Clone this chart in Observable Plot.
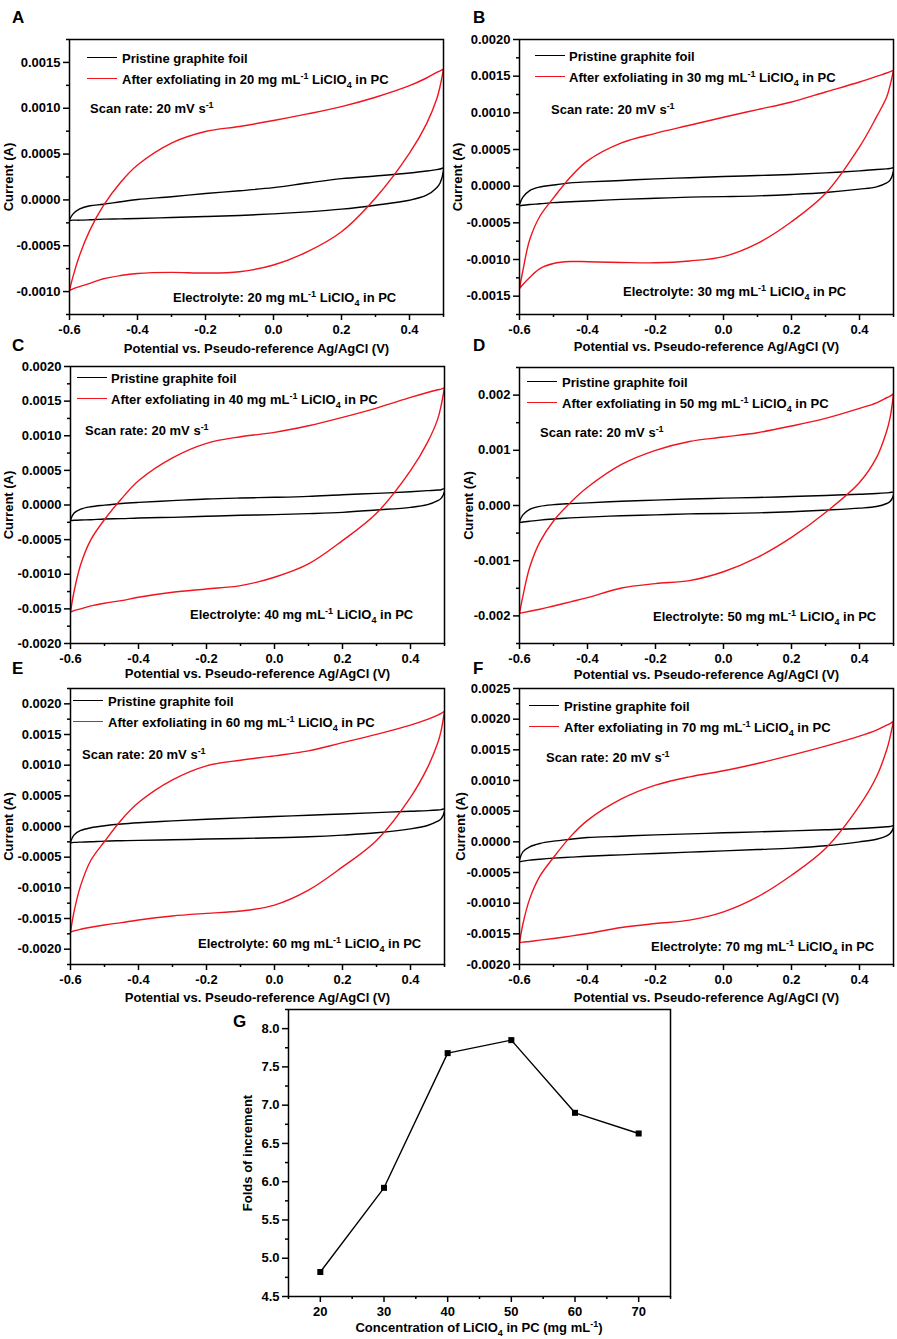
<!DOCTYPE html>
<html>
<head>
<meta charset="utf-8">
<script src="https://cdn.jsdelivr.net/npm/d3@7"></script>
<script src="https://cdn.jsdelivr.net/npm/@observablehq/plot@0.6"></script>
<style>
  body { margin: 0; background: #fff; }
  #fig { position: relative; width: 897px; height: 1339px; overflow: hidden; background: #fff;
         font-family: "Liberation Sans", Arial, sans-serif; font-weight: bold; color: #000; }
  #fig svg { position: absolute; }
  .lab { position: absolute; font-size: 17px; font-weight: bold; line-height: 1; transform: translateY(-50%); }
  .ann { position: absolute; font-size: 13px; white-space: nowrap; line-height: 1; transform: translateY(-50%); }
  .ann sup, .ann sub { font-size: 9px; line-height: 0; }
  .ann sup { vertical-align: 5px; }
  .ann sub { vertical-align: -4px; }
  .leg { position: absolute; width: 30px; height: 0; border-top: 1.5px solid #000; }
  .cen { transform: translate(-50%, -50%); }
</style>
</head>
<body>
<div id="fig"></div>
<script>
// ---------------- data ----------------
// Potential grid (V vs. pseudo-reference Ag/AgCl) shared by every CV branch
const potential = [-0.6, -0.59, -0.57, -0.54, -0.5, -0.45, -0.4, -0.3, -0.2, -0.1, 0, 0.1, 0.2, 0.3, 0.4, 0.45, 0.48, 0.49, 0.5];
// currents below are in units of 1e-4 A; "Fwd" = anodic sweep, "Rev" = cathodic sweep (listed at the same potentials)
const UNIT = 1e-4;

const pristineFwdA   = [-2.17,-1.55,-0.98,-0.63,-0.48,-0.2,0.04,0.35,0.7,1.0,1.34,1.85,2.32,2.61,2.93,3.15,3.30,3.37,3.48];
const pristineRevA   = [-2.25,-2.21,-2.21,-2.17,-2.10,-2.07,-2.03,-1.92,-1.81,-1.70,-1.52,-1.30,-1.01,-0.58,-0.04,0.51,1.34,1.85,3.22];
const exfoliatedFwdA = [-9.89,-8.4,-6.0,-3.3,-0.6,1.9,3.8,6.2,7.46,8.01,8.66,9.38,10.18,11.20,12.46,13.30,13.91,14.09,14.27];
const exfoliatedRevA = [-9.89,-9.70,-9.45,-9.10,-8.60,-8.25,-8.02,-7.90,-7.98,-7.83,-7.10,-5.65,-3.48,0.2,5.1,8.3,11.0,12.4,14.27];

const pristineFwdB   = [-2.5,-1.5,-0.6,-0.12,0.16,0.45,0.58,0.78,1.0,1.15,1.32,1.45,1.6,1.81,2.09,2.27,2.36,2.40,2.50];
const pristineRevB   = [-2.68,-2.6,-2.5,-2.4,-2.25,-2.12,-2.02,-1.80,-1.65,-1.5,-1.42,-1.32,-1.13,-0.86,-0.41,-0.09,0.45,0.82,2.09];
const exfoliatedFwdB = [-13.95,-11.5,-7.3,-4.1,-1.6,1.25,3.45,5.9,7.2,8.3,9.4,10.44,11.48,12.84,14.20,14.97,15.43,15.61,15.79];
const exfoliatedRevB = [-13.95,-13.4,-12.45,-11.25,-10.55,-10.28,-10.3,-10.4,-10.45,-10.2,-9.6,-7.80,-4.85,-1.00,5.35,9.44,12.16,13.75,15.79];

const pristineFwdC   = [-2.16,-1.2,-0.6,-0.25,-0.02,0.22,0.38,0.63,0.87,1.01,1.11,1.25,1.49,1.68,1.92,2.07,2.16,2.21,2.36];
const pristineRevC   = [-2.26,-2.21,-2.16,-2.12,-2.02,-1.97,-1.88,-1.78,-1.63,-1.49,-1.39,-1.25,-1.06,-0.72,-0.34,0.05,0.63,0.96,1.97];
const exfoliatedFwdC = [-15.48,-12.6,-8.6,-5.0,-2.1,0.9,3.5,6.8,8.9,9.86,10.48,11.44,12.65,13.99,15.53,16.25,16.64,16.73,16.97];
const exfoliatedRevC = [-15.48,-15.24,-15.00,-14.57,-14.18,-13.80,-13.32,-12.60,-12.12,-11.64,-10.43,-8.51,-5.14,-1.20,4.95,9.04,12.40,14.33,16.97];

const pristineFwdD   = [-2.9,-1.7,-0.7,-0.15,0.15,0.34,0.48,0.76,0.98,1.18,1.33,1.45,1.63,1.81,2.05,2.17,2.29,2.35,2.41];
const pristineRevD   = [-3.07,-3.0,-2.85,-2.65,-2.45,-2.25,-2.1,-1.85,-1.7,-1.52,-1.45,-1.33,-1.14,-0.84,-0.48,-0.18,0.36,0.72,1.93];
const exfoliatedFwdD = [-19.52,-16.4,-11.2,-6.6,-2.8,0.55,3.3,7.45,10.0,11.6,12.4,13.19,14.40,15.78,17.59,18.61,19.52,19.82,20.24];
const exfoliatedRevD = [-19.52,-19.4,-19.15,-18.8,-18.2,-17.45,-16.7,-14.95,-14.15,-13.6,-12.0,-9.40,-5.78,-1.27,4.16,8.67,13.49,15.90,20.24];

const pristineFwdE   = [-2.54,-1.4,-0.65,-0.2,0.12,0.4,0.6,0.92,1.19,1.41,1.62,1.84,2.05,2.27,2.49,2.59,2.70,2.76,2.86];
const pristineRevE   = [-2.65,-2.59,-2.54,-2.49,-2.38,-2.32,-2.27,-2.16,-2.05,-1.95,-1.84,-1.68,-1.41,-1.03,-0.38,0.16,0.86,1.24,2.49];
const exfoliatedFwdE = [-17.24,-14.0,-9.6,-5.5,-2.45,1.1,3.9,7.6,9.89,10.81,11.51,12.32,13.67,15.03,16.54,17.46,18.16,18.43,18.81];
const exfoliatedRevE = [-17.24,-17.03,-16.76,-16.43,-16.05,-15.67,-15.24,-14.59,-14.16,-13.78,-12.81,-10.38,-6.59,-2.27,4.76,9.6,13.6,15.6,18.81];

const pristineFwdF   = [-2.99,-1.63,-0.82,-0.27,0.11,0.43,0.71,0.92,1.14,1.30,1.47,1.63,1.79,1.96,2.17,2.34,2.45,2.50,2.61];
const pristineRevF   = [-3.26,-3.15,-2.99,-2.83,-2.66,-2.50,-2.34,-2.12,-1.90,-1.68,-1.47,-1.25,-1.03,-0.65,0,0.43,0.98,1.36,2.34];
const exfoliatedFwdF = [-16.47,-13.4,-9.3,-5.6,-2.55,0.85,3.5,7.0,9.24,10.60,11.58,12.77,14.13,15.60,17.23,18.21,19.02,19.29,19.67];
const exfoliatedRevF = [-16.47,-16.36,-16.25,-16.03,-15.76,-15.38,-14.95,-13.97,-13.32,-12.77,-11.41,-8.97,-5.44,-1.09,5.9,10.6,15.0,17.1,19.67];

// electrolyte concentrations (mg/mL) of panels A–F
const panelConcentration = [20, 30, 40, 50, 60, 70];

// tick values
const xTicksCV = [-0.6, -0.4, -0.2, 0.0, 0.2, 0.4];
const yTicksA = [-0.001, -0.0005, 0, 0.0005, 0.001, 0.0015];
const yTicksB = [-0.0015, -0.001, -0.0005, 0, 0.0005, 0.001, 0.0015, 0.002];
const yTicksC = [-0.002, -0.0015, -0.001, -0.0005, 0, 0.0005, 0.001, 0.0015, 0.002];
const yTicksD = [-0.002, -0.001, 0, 0.001, 0.002];
const yTicksE = [-0.002, -0.0015, -0.001, -0.0005, 0, 0.0005, 0.001, 0.0015, 0.002];
const yTicksF = [-0.002, -0.0015, -0.001, -0.0005, 0, 0.0005, 0.001, 0.0015, 0.002, 0.0025];

// panel G
const concentrationG = [20, 30, 40, 50, 60, 70];
const foldsG = [4.82, 5.92, 7.68, 7.85, 6.90, 6.63];
const xTicksG = [20, 30, 40, 50, 60, 70];
const yTicksG = [4.5, 5.0, 5.5, 6.0, 6.5, 7.0, 7.5, 8.0];

// ---------------- layout ----------------
const fig = document.getElementById("fig");
const RED = "#f0141e";
const STYLE = "font-family: 'Liberation Sans', Arial, sans-serif; font-size: 13px; font-weight: bold; background: transparent; overflow: visible; color: #000;";
const X_LABEL = "Potential vs. Pseudo-reference Ag/AgCl (V)";
const SERIES = ["Pristine graphite foil", "After exfoliating"];

function minorOf(major, domain) {
  const step = major[1] - major[0];
  const out = [];
  for (let i = -2; i < major.length + 2; i++) {
    const v = +(major[0] - step / 2 + i * step).toFixed(10);
    if (v >= domain[0] - step * 1e-6 && v <= domain[1] + step * 1e-6) out.push(v);
  }
  return out;
}

const panels = [
  {id: "A", left: 0,   colW: 450, frame: {l: 69,  r: 443, t: 39,  b: 314}, yDomain: [-0.00125, 0.00175], yTicks: yTicksA, dig: 4,
   series: [pristineFwdA, pristineRevA, exfoliatedFwdA, exfoliatedRevA], yLabOff: 66, xLabOff: 38,
   leg: {lx: 18, r1: 19, r2: 40, tx: 53, sx: 21, sy: 69, ex: 104, ey: 258}, lab: [12, 17]},
  {id: "B", left: 450, colW: 447, frame: {l: 519, r: 893, t: 39,  b: 314}, yDomain: [-0.00175, 0.002], yTicks: yTicksB, dig: 4,
   series: [pristineFwdB, pristineRevB, exfoliatedFwdB, exfoliatedRevB], yLabOff: 67, xLabOff: 36,
   leg: {lx: 16, r1: 17, r2: 38, tx: 50, sx: 32, sy: 70, ex: 104, ey: 252}, lab: [473, 17]},
  {id: "C", left: 0,   colW: 450, frame: {l: 70,  r: 444, t: 366, b: 643}, yDomain: [-0.002, 0.002], yTicks: yTicksC, dig: 4,
   series: [pristineFwdC, pristineRevC, exfoliatedFwdC, exfoliatedRevC], yLabOff: 67, xLabOff: 34,
   leg: {lx: 7, r1: 12, r2: 33, tx: 41, sx: 15, sy: 64, ex: 120, ey: 248}, lab: [12, 345]},
  {id: "D", left: 450, colW: 447, frame: {l: 519, r: 893, t: 367, b: 643}, yDomain: [-0.0025, 0.0025], yTicks: yTicksD, dig: 3,
   series: [pristineFwdD, pristineRevD, exfoliatedFwdD, exfoliatedRevD], yLabOff: 56, xLabOff: 35,
   leg: {lx: 8, r1: 15, r2: 36, tx: 43, sx: 21, sy: 65, ex: 134, ey: 249}, lab: [473, 345]},
  {id: "E", left: 0,   colW: 450, frame: {l: 70,  r: 444, t: 688, b: 964}, yDomain: [-0.00225, 0.00225], yTicks: yTicksE, dig: 4,
   series: [pristineFwdE, pristineRevE, exfoliatedFwdE, exfoliatedRevE], yLabOff: 67, xLabOff: 37,
   leg: {lx: 3, r1: 13, r2: 34, tx: 38, sx: 12, sy: 66, ex: 128, ey: 255}, lab: [12, 668]},
  {id: "F", left: 450, colW: 447, frame: {l: 519, r: 893, t: 688, b: 964}, yDomain: [-0.002, 0.0025], yTicks: yTicksF, dig: 4,
   series: [pristineFwdF, pristineRevF, exfoliatedFwdF, exfoliatedRevF], yLabOff: 64, xLabOff: 37,
   leg: {lx: 10, r1: 18, r2: 39, tx: 45, sx: 27, sy: 69, ex: 132, ey: 258}, lab: [473, 668]}
];

function addDiv(cls, html, x, y, extra) {
  const d = document.createElement("div");
  d.className = cls;
  d.innerHTML = html;
  d.style.left = x + "px";
  d.style.top = y + "px";
  if (extra) Object.assign(d.style, extra);
  fig.appendChild(d);
  return d;
}

panels.forEach((p, k) => {
  const f = p.frame, mt = 30, mb = 48;
  const rows = [];
  const [pf, pr, ef, er] = p.series;
  const loop = (fwd, rev, name) => {
    potential.forEach((v, i) => rows.push({series: name, potential: v, current: fwd[i] * UNIT}));
    for (let i = potential.length - 1; i >= 0; i--) rows.push({series: name, potential: potential[i], current: rev[i] * UNIT});
  };
  loop(pf, pr, SERIES[0]);
  loop(ef, er, SERIES[1]);

  const svg = Plot.plot({
    width: p.colW,
    height: (f.b - f.t) + mt + mb,
    marginLeft: f.l - p.left,
    marginRight: p.left + p.colW - f.r,
    marginTop: mt,
    marginBottom: mb,
    style: STYLE,
    x: {domain: [-0.6, 0.5]},
    y: {domain: p.yDomain},
    color: {domain: SERIES, range: ["#000000", RED]},
    marks: [
      Plot.line(rows, {x: "potential", y: "current", z: "series", stroke: "series", strokeWidth: 1.4, curve: "catmull-rom", clip: true}),
      Plot.frame({stroke: "#000", strokeWidth: 1.5}),
      Plot.axisX({ticks: xTicksCV, tickSize: 6, tickPadding: 4, strokeWidth: 1.5, tickFormat: d => d.toFixed(1),
                  label: X_LABEL, labelAnchor: "center", labelOffset: p.xLabOff, labelArrow: "none"}),
      Plot.axisX({ticks: minorOf(xTicksCV, [-0.6, 0.5]), tickSize: 3, strokeWidth: 1.5, tickFormat: () => "", label: null}),
      Plot.axisY({ticks: p.yTicks, tickSize: 6, tickPadding: 3, strokeWidth: 1.5, tickFormat: d => d.toFixed(p.dig),
                  label: "Current (A)", labelAnchor: "center", labelOffset: p.yLabOff, labelArrow: "none"}),
      Plot.axisY({ticks: minorOf(p.yTicks, p.yDomain), tickSize: 3, strokeWidth: 1.5, tickFormat: () => "", label: null})
    ]
  });
  svg.style.left = p.left + "px";
  svg.style.top = (f.t - mt) + "px";
  fig.appendChild(svg);

  // panel letter
  addDiv("lab", p.id, p.lab[0], p.lab[1]);
  // legend + annotations
  const L = p.leg, c = panelConcentration[k];
  addDiv("leg", "", f.l + L.lx, f.t + L.r1 - 0.75, {borderTopColor: "#000"});
  addDiv("leg", "", f.l + L.lx, f.t + L.r2 - 0.75, {borderTopColor: RED});
  addDiv("ann", "Pristine graphite foil", f.l + L.tx, f.t + L.r1);
  addDiv("ann", `After exfoliating in ${c} mg mL<sup>-1</sup> LiClO<sub>4</sub> in PC`, f.l + L.tx, f.t + L.r2);
  addDiv("ann", "Scan rate: 20 mV s<sup>-1</sup>", f.l + L.sx, f.t + L.sy);
  addDiv("ann", `Electrolyte: ${c} mg mL<sup>-1</sup> LiClO<sub>4</sub> in PC`, f.l + L.ex, f.t + L.ey);
});

// ---------------- panel G ----------------
{
  const f = {l: 288, r: 670, t: 1009, b: 1296};
  const left = 200, W = 497, mt = 30, mb = 30;
  const rows = concentrationG.map((c, i) => ({c, v: foldsG[i]}));
  const svg = Plot.plot({
    width: W,
    height: (f.b - f.t) + mt + mb,
    marginLeft: f.l - left,
    marginRight: left + W - f.r,
    marginTop: mt,
    marginBottom: mb,
    style: STYLE,
    x: {domain: [15, 75]},
    y: {domain: [4.5, 8.25]},
    marks: [
      Plot.line(rows, {x: "c", y: "v", stroke: "#000", strokeWidth: 1.4}),
      Plot.dot(rows, {x: "c", y: "v", symbol: "square", r: 3.4, fill: "#000", stroke: null}),
      Plot.frame({stroke: "#000", strokeWidth: 1.5}),
      Plot.axisX({ticks: xTicksG, tickSize: 6, tickPadding: 4, strokeWidth: 1.5, tickFormat: d => String(d), label: null}),
      Plot.axisX({ticks: minorOf(xTicksG, [15, 75]), tickSize: 3, strokeWidth: 1.5, tickFormat: () => "", label: null}),
      Plot.axisY({ticks: yTicksG, tickSize: 6, tickPadding: 3, strokeWidth: 1.5, tickFormat: d => d.toFixed(1),
                  label: "Folds of increment", labelAnchor: "center", labelOffset: 46, labelArrow: "none"}),
      Plot.axisY({ticks: minorOf(yTicksG, [4.5, 8.25]), tickSize: 3, strokeWidth: 1.5, tickFormat: () => "", label: null})
    ]
  });
  svg.style.left = left + "px";
  svg.style.top = (f.t - mt) + "px";
  fig.appendChild(svg);
  addDiv("lab", "G", 233, 1021);
  addDiv("ann cen", "Concentration of LiClO<sub>4</sub> in PC (mg mL<sup>-1</sup>)", (f.l + f.r) / 2, 1327);
}
</script>
</body>
</html>
